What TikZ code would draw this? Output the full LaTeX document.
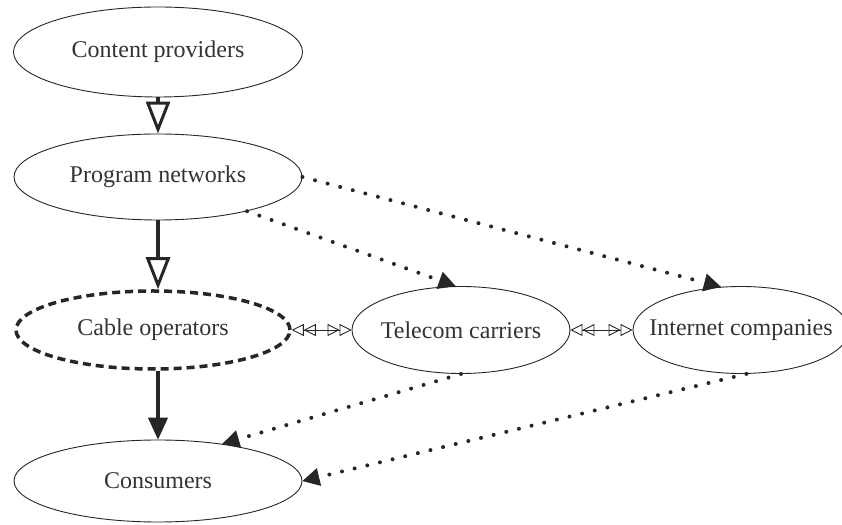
\documentclass[tikz,border=0pt]{standalone}
\usepackage{fontspec}
\setmainfont{Liberation Serif}
\usetikzlibrary{shapes.geometric,positioning,arrows.meta}

\begin{document}
\begin{tikzpicture}[x=1pt, y=1pt, on grid,
    firm/.style={ellipse, draw=black!85, line width=0.9pt, inner xsep=-40pt, inner ysep=0pt,
        text=black!80, font=\fontsize{24}{28}\selectfont},
    loose/.style={firm, line width=3.5pt, dash pattern=on 8pt off 5pt},
    feed/.style={draw=black!85, line width=3.5pt, -{Triangle[open, length=32pt, width=24pt, line width=3pt]}},
    deliver/.style={draw=black!85, line width=3.5pt, -{Triangle[length=22pt, width=20pt, line width=1pt]}},
    rival/.style={draw=black!85, line width=0.9pt,
        {Triangle[open, length=12pt, width=12pt] Triangle[open, length=12pt, width=12pt]}-{Triangle[open, length=12pt, width=12pt] Triangle[open, length=12pt, width=12pt]}},
    reach/.style={draw=black!85, line width=4pt, line cap=round, dash pattern=on 0pt off 13pt,
        -{Triangle[length=17pt, width=18pt, line width=1pt]}}
]

    \useasboundingbox (0,0) rectangle (842,524);

    \node[firm, minimum width=289pt, minimum height=90pt] (cp) at (158,472) {Content providers};
    \node[firm, minimum width=288pt, minimum height=86pt] (pn) [below=125pt of cp] {Program networks};
    \node[loose, minimum width=274pt, minimum height=78pt] (co) [below left=153pt and 5pt of pn] {Cable operators};
    \node[firm, minimum width=288pt, minimum height=82pt] (cu) [below=304pt of pn] {Consumers};
    \node[firm, minimum width=218pt, minimum height=87pt] (tc) [right=308pt of co] {Telecom carriers};
    \node[firm, minimum width=216pt, minimum height=87pt] (ic) [right=280pt of tc] {Internet companies};

    \path
        (cp.south) edge[feed] (pn.north)
        (pn.south) edge[feed] (co.north -| pn.south)
        (co.south -| cu.north) edge[deliver] (cu.north)
        (co.east) edge[rival] (tc.west)
        (tc.east) edge[rival] (ic.west)
        (pn.-21) edge[reach] (tc.97)
        (pn.east) edge[reach] (ic.115)
        (tc.south) edge[reach] (cu.30)
        (ic.-83) edge[reach] (cu.east);

\end{tikzpicture}
\end{document}
